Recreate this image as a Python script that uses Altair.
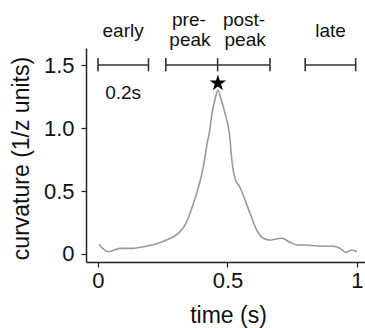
import altair as alt
import pandas as pd

# curve data (time in s, curvature)
time_s = [0.004, 0.040, 0.085, 0.136, 0.175, 0.227, 0.271, 0.310, 0.336, 0.355,
          0.381, 0.407, 0.420, 0.432, 0.439, 0.452, 0.463, 0.475, 0.490, 0.510,
          0.516, 0.529, 0.548, 0.564, 0.587, 0.613, 0.638, 0.664, 0.687, 0.709,
          0.741, 0.773, 0.806, 0.844, 0.909, 0.934, 0.958, 0.980, 1.000]
curv = [0.077, 0.018, 0.045, 0.045, 0.058, 0.082, 0.117, 0.164, 0.230, 0.323,
        0.482, 0.693, 0.860, 0.990, 1.100, 1.230, 1.300, 1.230, 1.120, 0.905,
        0.760, 0.600, 0.530, 0.450, 0.323, 0.190, 0.125, 0.111, 0.119, 0.125,
        0.093, 0.071, 0.071, 0.063, 0.061, 0.045, 0.013, 0.032, 0.018]

# peak marker
peak_t = [0.463]
peak_v = [1.355]

# scale bars (start, end) at level
bar_start = [0.0, 0.262, 0.462, 0.80]
bar_end = [0.195, 0.462, 0.664, 0.995]
bar_level = 1.5
tick_t = [0.0, 0.195, 0.262, 0.462, 0.664, 0.80, 0.995]

# annotation labels
ann_text = ["early", "pre-", "peak", "post-", "peak", "late", "0.2s"]
ann_t = [0.097, 0.351, 0.355, 0.564, 0.568, 0.898, 0.097]
ann_v = [1.722, 1.81, 1.651, 1.81, 1.651, 1.722, 1.23]

FONT = "Liberation Sans"
STAR = ("M0,-1 L0.225,-0.309 L0.951,-0.309 L0.363,0.118 L0.588,0.809 L0,0.382 "
        "L-0.588,0.809 L-0.363,0.118 L-0.951,-0.309 L-0.225,-0.309 Z")

curve_df = pd.DataFrame({"t": time_s, "v": curv})
peak_df = pd.DataFrame({"t": peak_t, "v": peak_v})
bar_df = pd.DataFrame({"t": bar_start, "t2": bar_end, "v": [bar_level] * len(bar_start)})
tick_df = pd.DataFrame({"t": tick_t, "v": [bar_level - 0.05] * len(tick_t),
                        "hi": [bar_level + 0.055] * len(tick_t)})
ann_df = pd.DataFrame({"label": ann_text, "t": ann_t, "v": ann_v})

xscale = alt.Scale(domain=[-0.0463, 1.031], nice=False, zero=False)
yscale = alt.Scale(domain=[-0.0635, 1.635], nice=False, zero=False)

xaxis = alt.Axis(orient="bottom", values=[0, 0.5, 1], title="time (s)", grid=False,
                 labelExpr="datum.value == 0.5 ? '0.5' : format(datum.value, 'd')",
                 domainColor="#222", domainWidth=1.5, tickColor="#222", tickWidth=1.2,
                 tickSize=5, labelFontSize=22, labelFont=FONT, labelColor="#111",
                 labelPadding=3, labelOverlap=False, labelBound=False, labelFlush=False,
                 titleFont=FONT, titleFontSize=23, titleFontWeight="normal",
                 titleColor="#111", titleX=142, titleY=60, titleBaseline="alphabetic",
                 titleAlign="center")
yaxis = alt.Axis(orient="left", values=[0, 0.5, 1, 1.5], title="curvature (1/z units)", grid=False,
                 labelExpr="datum.value == 0 ? '0' : format(datum.value, '.1f')",
                 domainColor="#222", domainWidth=1.5, tickColor="#222", tickWidth=1.2,
                 tickSize=5, labelFontSize=22, labelFont=FONT, labelColor="#111",
                 labelPadding=7, titleFont=FONT, titleFontSize=23, titleFontWeight="normal",
                 titleColor="#111", titleX=-58, titleY=110, titleAngle=270,
                 titleBaseline="alphabetic", titleAlign="center")


def X(f):
    return alt.X(f, type="quantitative", scale=xscale, axis=xaxis)


def Y(f):
    return alt.Y(f, type="quantitative", scale=yscale, axis=yaxis)


line = alt.Chart(curve_df).mark_line(color="#999999", strokeWidth=1.6,
                                     interpolate="monotone").encode(x=X("t"), y=Y("v"))

bars = alt.Chart(bar_df).mark_rule(color="#333333", strokeWidth=1.6).encode(
    x=X("t"), x2="t2:Q", y=Y("v"))

ticks = alt.Chart(tick_df).mark_rule(color="#333333", strokeWidth=1.6).encode(
    x=X("t"), y=Y("v"), y2="hi:Q")

star = alt.Chart(peak_df).mark_point(shape=STAR, filled=True, color="black",
                                     size=300, opacity=1).encode(x=X("t"), y=Y("v"))

labels = alt.Chart(ann_df).mark_text(font=FONT, fontSize=19, color="#111",
                                     align="center", baseline="alphabetic").encode(
    x=X("t"), y=Y("v"), text="label:N")

chart = alt.layer(line, bars, ticks, star, labels).properties(
    width=279, height=214,
    autosize=alt.AutoSizeParams(type="none"),
    padding={"left": 86, "top": 48, "right": 0, "bottom": 66},
).configure_view(stroke="transparent")

chart.save("out.html", embed_options={"renderer": "svg", "actions": False})
